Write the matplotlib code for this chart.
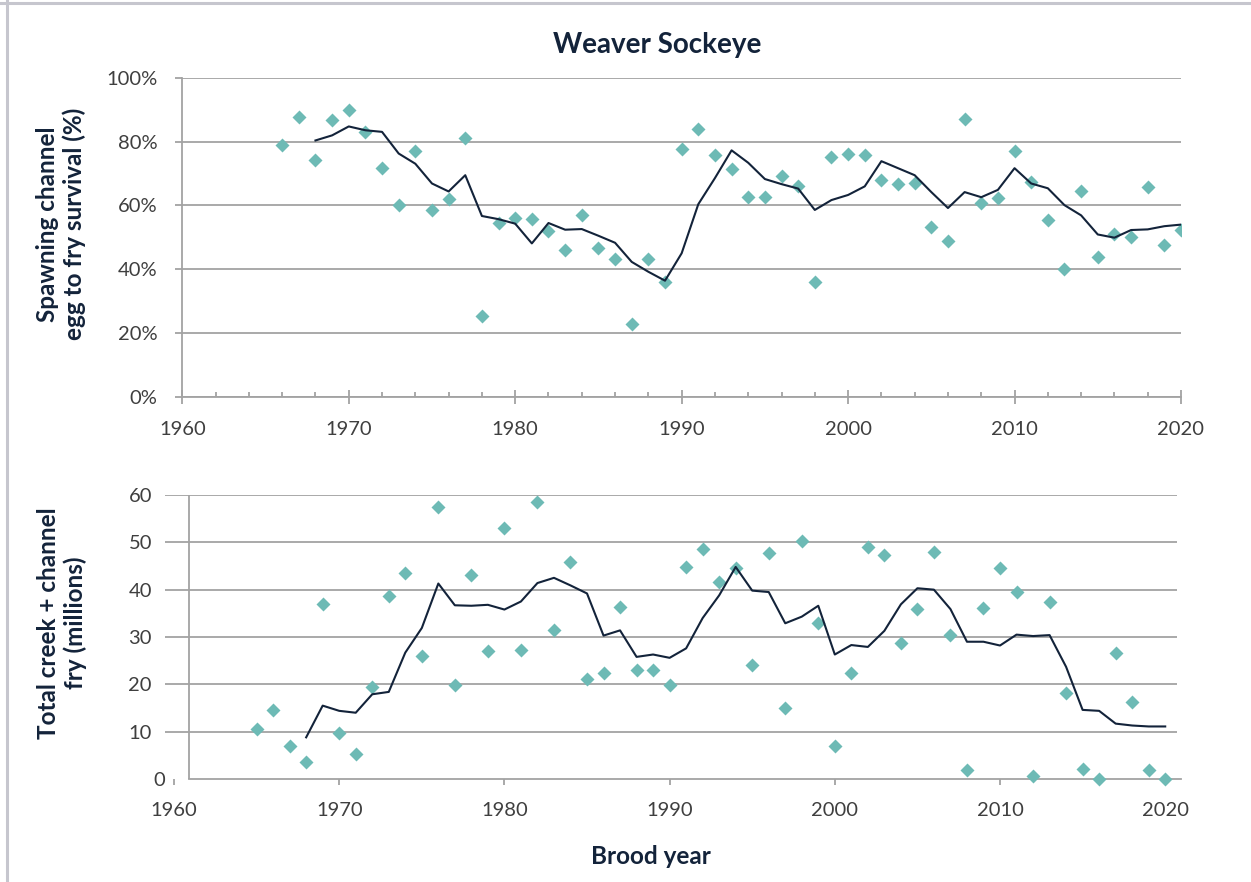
import numpy as np
import matplotlib
matplotlib.use('Agg')
import matplotlib.pyplot as plt
from matplotlib.ticker import MultipleLocator, FuncFormatter
from matplotlib.lines import Line2D
from matplotlib.transforms import ScaledTranslation

plt.rcParams['font.family'] = ['Lato', 'DejaVu Sans']

# survival (%) - points and running average
surv_years = np.arange(1966, 2021)
surv_pts = [78.9, 87.9, 74.3, 86.9, 90.1, 83.0, 71.9, 60.3, 77.0, 58.6,
            62.0, 81.3, 25.2, 54.6, 56.1, 55.7, 52.1, 45.9, 57.0, 46.7,
            43.2, 22.7, 43.3, 36.1, 77.7, 84.0, 75.9, 71.4, 62.8, 62.8,
            69.4, 66.0, 35.9, 75.3, 76.3, 75.8, 68.0, 66.8, 67.2, 53.2,
            48.8, 87.1, 60.8, 62.3, 77.1, 67.3, 55.3, 40.2, 64.6, 43.7,
            50.9, 50.1, 65.8, 47.6, 52.4]
surv_avg_years = np.arange(1968, 2021)
surv_avg = [80.4, 82.0, 84.8, 83.6, 83.1, 76.3, 73.1, 66.9, 64.4, 69.5,
            56.7, 55.7, 54.3, 48.1, 54.5, 52.4, 52.6, 50.5, 48.3, 42.3,
            39.2, 36.4, 45.0, 60.4, 68.6, 77.3, 73.4, 68.3, 66.7, 65.3,
            58.6, 61.7, 63.3, 66.0, 73.9, 71.7, 69.5, 64.2, 59.2, 64.2,
            62.6, 64.9, 71.7, 66.9, 65.4, 60.1, 56.9, 50.9, 49.9, 52.3,
            52.5, 53.5, 54.0]

# total fry (millions)
fry_years = np.arange(1965, 2021)
fry_pts = [10.5, 14.5, 7.0, 3.6, 37.0, 9.8, 5.2, 19.4, 38.7, 43.6,
           26.0, 57.5, 19.8, 43.0, 27.0, 53.0, 27.2, 58.5, 31.4, 45.8,
           21.2, 22.5, 36.3, 23.0, 23.1, 19.8, 44.8, 48.5, 41.6, 44.6,
           24.1, 47.8, 15.1, 50.3, 33.0, 7.0, 22.5, 49.0, 47.3, 28.7,
           36.0, 48.0, 30.5, 1.9, 36.1, 44.5, 39.6, 0.6, 37.3, 18.2,
           2.2, 0.1, 26.6, 16.3, 2.0, 0.0]
fry_avg_years = np.arange(1968, 2021)
fry_avg = [8.8, 15.5, 14.4, 14.0, 17.9, 18.4, 26.7, 31.9, 41.3, 36.7,
           36.6, 36.8, 35.8, 37.5, 41.4, 42.5, 40.9, 39.2, 30.3, 31.4,
           25.8, 26.3, 25.6, 27.6, 34.0, 38.8, 44.8, 39.8, 39.5, 32.9,
           34.3, 36.6, 26.3, 28.3, 27.9, 31.3, 36.9, 40.3, 40.0, 35.9,
           29.0, 29.0, 28.2, 30.5, 30.2, 30.4, 23.7, 14.6, 14.4, 11.7,
           11.3, 11.1, 11.1]

teal = '#6dbab5'
navy = '#13233a'
grid = '#a3a3a3'
tickc = '#3f3f3f'

W, H = 1251, 882
fig = plt.figure(figsize=(W / 100, H / 100), dpi=100)

# frame lines (top and left)
fig.add_artist(Line2D([0, 1], [1 - 3 / H, 1 - 3 / H], color='#c6c6ce', lw=2.2))
fig.add_artist(Line2D([7 / W, 7 / W], [0, 1], color='#c6c6ce', lw=2.2))

# ---- top panel
ax1 = fig.add_axes([182.3 / W, 1 - 396.7 / H, (1181 - 182.3) / W, (396.7 - 78) / H])
ax1.plot(surv_years, surv_pts, 'D', color=teal, ms=7.6, mec='none', zorder=3)
ax1.plot(surv_avg_years, surv_avg, '-', color=navy, lw=1.5, zorder=4)
ax1.set_xlim(1960, 2020)
ax1.set_ylim(0, 100)
ax1.yaxis.set_major_locator(MultipleLocator(20))
ax1.yaxis.set_major_formatter(FuncFormatter(lambda v, p: '%d%%' % v))
ax1.xaxis.set_major_locator(MultipleLocator(10))
ax1.xaxis.set_minor_locator(MultipleLocator(2))
ax1.grid(axis='y', color=grid, lw=1.3)
ax1.set_axisbelow(True)
for s in ['top', 'right']:
    ax1.spines[s].set_visible(False)
for s in ['left', 'bottom']:
    ax1.spines[s].set_color(grid)
    ax1.spines[s].set_linewidth(1.3)
ax1.tick_params(axis='y', direction='out', length=5, width=1.3, color=grid,
                pad=13, labelsize=14.5, labelcolor=tickc)
ax1.tick_params(axis='x', which='major', direction='inout', length=10, width=1.3,
                color=grid, pad=12.5, labelsize=14.5, labelcolor=tickc)
ax1.tick_params(axis='x', which='minor', direction='in', length=3.6, width=1.3, color=grid)
ax1.spines['bottom'].set_zorder(5)

fig.text(657 / W, 1 - 45 / H, 'Weaver Sockeye', ha='center', va='center',
         fontsize=20, fontweight='bold', color=navy)
fig.text(61 / W, 1 - 224 / H, 'Spawning channel\negg to fry survival (%)',
         rotation=90, ha='center', va='center', fontsize=17.5, fontweight='bold',
         color=navy, linespacing=1.15, multialignment='center')

# ---- bottom panel
x_left, x_right = 1959.455, 2020.956
ax2 = fig.add_axes([165 / W, 1 - 779 / H, (1181 - 165) / W, (779 - 495) / H])
ax2.plot(fry_years, fry_pts, 'D', color=teal, ms=7.6, mec='none', zorder=3, clip_on=False)
ax2.plot(fry_avg_years, fry_avg, '-', color=navy, lw=1.5, zorder=4)
ax2.set_xlim(x_left, x_right)
ax2.set_ylim(0, 60)
ax2.set_xticks(np.arange(1960, 2021, 10))
ax2.set_yticks(np.arange(0, 61, 10))
ax2.hlines(np.arange(10, 61, 10), x_left, 2020.71, color=grid, lw=1.3, zorder=1)
ax2.axvline(1960.91, 0, 1, color=grid, lw=1.3, zorder=1)
for s in ['top', 'right', 'left']:
    ax2.spines[s].set_visible(False)
ax2.spines['bottom'].set_color(grid)
ax2.spines['bottom'].set_linewidth(1.3)
ax2.spines['bottom'].set_bounds(1960.91, x_right)
ax2.tick_params(axis='y', length=0, pad=9.4, labelsize=14.5, labelcolor=tickc)
ax2.tick_params(axis='x', direction='out', length=4.3, width=1.3, color=grid,
                pad=12.5, labelsize=14.5, labelcolor=tickc)
# the zero label sits a little to the right in the original
zero_lab = ax2.get_yticklabels()[0]
zero_lab.set_transform(zero_lab.get_transform() + ScaledTranslation(0.13, 0, fig.dpi_scale_trans))

fig.text(62 / W, 1 - 623 / H, 'Total creek + channel\nfry (millions)',
         rotation=90, ha='center', va='center', fontsize=17.5, fontweight='bold',
         color=navy, linespacing=1.15, multialignment='center')
fig.text(651 / W, 1 - 856 / H, 'Brood year', ha='center', va='center',
         fontsize=17.5, fontweight='bold', color=navy)

fig.savefig('out.png', dpi=100)
